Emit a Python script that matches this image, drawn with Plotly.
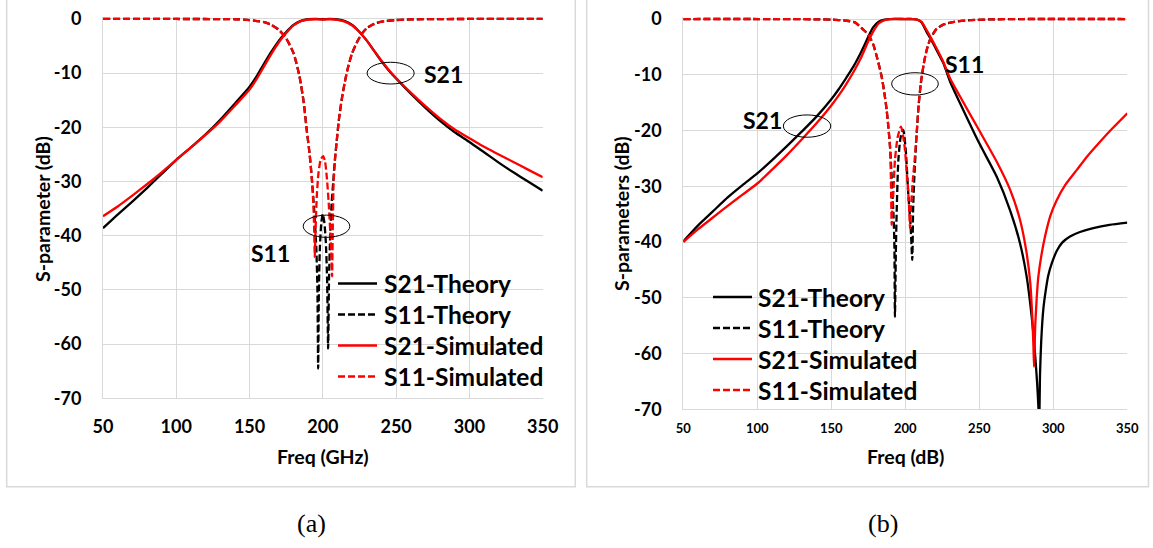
import plotly.graph_objects as go

# ---------------- Panel (a) data ----------------
freq_a_s21_th = [50, 60, 70, 80, 90, 100, 110, 120, 130, 140, 150, 155, 160, 165, 170, 175, 180, 185, 190, 195,
                 200, 205, 210, 215, 220, 225, 230, 235, 240, 245, 250, 260, 270, 280, 290, 300, 310, 320, 330, 340, 350]
s21_th_a = [-38.6, -36.1, -33.7, -31.2, -28.6, -26.0, -23.7, -21.3, -18.6, -15.6, -12.5, -10.5, -8.2, -6.0, -4.0,
            -2.4, -1.1, -0.35, -0.05, 0, -0.05, 0, -0.1, -0.4, -1.1, -2.4, -4.0, -5.9, -7.8, -9.5, -11.0, -13.8,
            -16.4, -18.8, -20.9, -22.7, -24.6, -26.5, -28.3, -30.0, -31.7]

freq_a_s21_sim = freq_a_s21_th
s21_sim_a = [-36.4, -34.6, -32.6, -30.5, -28.3, -26.0, -23.7, -21.4, -18.9, -16.0, -13.0, -11.0, -8.7, -6.4,
             -4.3, -2.6, -1.2, -0.4, -0.1, -0.05, -0.1, -0.05, -0.15, -0.5, -1.2, -2.4, -4.0, -5.9, -7.7, -9.4,
             -10.9, -13.6, -16.1, -18.4, -20.4, -22.0, -23.6, -25.0, -26.4, -27.8, -29.2]

freq_a_s11_th = [50, 100, 140, 150, 160, 165, 170, 175, 180, 184, 187, 189, 191, 192.5, 194, 195.5, 196.3, 196.8,
                 197.3, 198, 199, 200, 201, 202, 202.9, 203.6, 204.2, 205, 206, 207.1, 208.2, 209.4, 211, 212.8,
                 215, 217.3, 220, 224, 227, 230, 235, 240, 250, 260, 280, 300, 350]
s11_th_a = [0, 0, -0.05, -0.2, -0.6, -1.1, -2.0, -3.6, -6.3, -10.5, -15.5, -20.5, -25.0, -29.5, -35.0, -42.0,
            -50.0, -64.5, -50.0, -42.0, -37.5, -36.0, -37.5, -41.0, -48.0, -60.8, -48.0, -40.0, -34.0, -30.0,
            -26.0, -22.7, -18.5, -15.0, -11.6, -8.8, -6.3, -3.9, -2.6, -1.7, -0.9, -0.5, -0.2, -0.08, -0.02, 0, 0]

freq_a_s11_sim = [50, 100, 140, 150, 160, 165, 170, 175, 180, 184, 187, 189, 191, 192.5, 193.5, 194.1, 194.5, 195,
                  195.8, 197, 198.5, 200.2, 201.5, 202.8, 204, 205.2, 205.9, 206.3, 206.8, 207.3, 208.2, 209.4,
                  211, 212.8, 215, 217.3, 220, 224, 227, 230, 235, 240, 250, 260, 280, 300, 350]
s11_sim_a = [0, 0, -0.05, -0.2, -0.6, -1.1, -2.0, -3.6, -6.3, -10.5, -15.5, -20.5, -25.0, -29.5, -34.0, -39.0,
             -43.9, -39.0, -33.0, -28.5, -26.0, -25.3, -26.3, -29.5, -34.0, -40.0, -44.0, -47.5, -38.0, -30.5,
             -26.3, -22.7, -18.5, -15.0, -11.6, -8.8, -6.3, -3.9, -2.6, -1.7, -0.9, -0.5, -0.2, -0.08, -0.02, 0, 0]

# ---------------- Panel (b) data ----------------
freq_b_s21_th = [50, 60, 70, 80, 90, 100, 110, 120, 130, 140, 150, 155, 160, 165, 170, 175, 178, 182, 186, 190,
                 200, 205, 208, 211, 214.4, 217, 221.2, 225.7, 230.2, 237, 250, 261.8, 270.8, 277.5, 282, 285.4,
                 287.5, 289, 290, 290.4, 291, 291.8, 293.2, 295, 296.6, 299, 302.3, 306, 311.3, 318, 327, 338, 350]
s21_th_b = [-39.9, -37.0, -34.5, -32.0, -29.8, -27.7, -25.3, -22.8, -20.2, -17.5, -14.4, -12.6, -10.6, -8.5,
            -6.0, -3.2, -1.6, -0.5, -0.1, 0, 0, 0, -0.1, -0.6, -2.3, -3.5, -5.6, -7.9, -11.2, -15.1, -22.3,
            -28.3, -34.3, -40.2, -46.2, -53.4, -59.5, -65.0, -70.0, -75.0, -64.0, -58.0, -52.2, -48.5, -46.0,
            -43.8, -41.6, -40.1, -39.0, -38.2, -37.5, -36.9, -36.5]

freq_b_s21_sim = [50, 60, 70, 80, 90, 100, 110, 120, 130, 140, 150, 155, 160, 165, 170, 175, 178, 182, 186, 190,
                  200, 205, 208, 211, 214.4, 217, 221.2, 225.7, 230.2, 237, 250, 261.8, 270.8, 277.5, 282, 284.5,
                  285.8, 286.6, 287, 287.8, 288.8, 289.9, 292, 294.4, 298, 302.3, 308, 315.8, 323, 331.6, 340, 350]
s21_sim_b = [-40.0, -37.7, -35.6, -33.5, -31.5, -29.5, -27.0, -24.4, -21.6, -18.7, -15.5, -13.7, -11.7, -9.5,
             -7.0, -4.0, -2.4, -0.8, -0.2, 0, 0, 0, -0.1, -0.5, -2.0, -3.2, -5.3, -7.7, -10.6, -13.9, -20.0,
             -25.6, -30.6, -36.0, -42.0, -47.5, -53.5, -58.8, -62.4, -55.0, -50.0, -46.2, -42.3, -39.0, -35.3,
             -32.5, -29.8, -27.1, -24.6, -22.0, -19.6, -16.9]

freq_b_s11_th = [50, 100, 140, 150, 160, 166, 171.6, 175, 178.4, 181, 184, 186, 187.4, 188.6, 189.7, 190.8,
                 192.0, 192.6, 193.0, 193.6, 194.2, 195.3, 196.9, 198.6, 200.3, 202.0, 203.6, 204.7, 205.3, 206.1,
                 207.7, 209, 210.5, 212.5, 214.5, 217, 221, 225.7, 233, 244, 260, 280, 350]
s11_th_b = [0, 0, -0.05, -0.1, -0.3, -0.6, -1.9, -2.8, -4.6, -7.0, -10.3, -13.5, -16.3, -19.5, -23.0, -28.3,
            -35.0, -40.0, -53.4, -42.0, -34.3, -25.3, -21.1, -19.9, -23.5, -31.3, -37.2, -43.2, -34.0, -28.3,
            -20.5, -15.5, -11.5, -8.0, -5.5, -3.5, -1.8, -1.0, -0.5, -0.2, -0.05, 0, 0]

freq_b_s11_sim = [50, 100, 140, 150, 160, 166, 171.6, 175, 178.4, 181, 184, 186, 187.4, 188.6, 189.7, 190.3,
                  190.8, 191.4, 191.9, 193.0, 194.9, 197.1, 199.3, 201.6, 202.5, 203.2, 203.8, 204.3, 205.2, 206.1,
                  207.7, 209, 210.5, 212.5, 214.5, 217, 221, 225.7, 233, 244, 260, 280, 350]
s11_sim_b = [0, 0, -0.05, -0.1, -0.3, -0.6, -1.9, -2.8, -4.6, -7.0, -10.3, -13.5, -16.3, -19.5, -23.0, -29.0,
             -36.9, -33.0, -31.3, -25.3, -21.1, -19.3, -22.3, -29.5, -33.5, -37.5, -34.0, -31.9, -28.5, -25.9,
             -20.5, -15.5, -11.5, -8.0, -5.5, -3.5, -1.8, -1.0, -0.5, -0.2, -0.05, 0, 0]

# tick values and labels (plain hyphen minus)
x_ticks = [50, 100, 150, 200, 250, 300, 350]
x_ticktext = ["50", "100", "150", "200", "250", "300", "350"]
y_ticks = [0, -10, -20, -30, -40, -50, -60, -70]
y_ticktext = ["0", "-10", "-20", "-30", "-40", "-50", "-60", "-70"]

# ---------------- styling ----------------
BLACK = "#000000"
RED = "#ff0000"
GRID = "#d9d9d9"
FONT = "Lato"
LW = 2.3
DASH = "7px,3px"

series_a = [
    ("S21-Theory", freq_a_s21_th, s21_th_a, BLACK, "solid"),
    ("S11-Theory", freq_a_s11_th, s11_th_a, BLACK, DASH),
    ("S21-Simulated", freq_a_s21_sim, s21_sim_a, RED, "solid"),
    ("S11-Simulated", freq_a_s11_sim, s11_sim_a, RED, DASH),
]
series_b = [
    ("S21-Theory", freq_b_s21_th, s21_th_b, BLACK, "solid"),
    ("S11-Theory", freq_b_s11_th, s11_th_b, BLACK, DASH),
    ("S21-Simulated", freq_b_s21_sim, s21_sim_b, RED, "solid"),
    ("S11-Simulated", freq_b_s11_sim, s11_sim_b, RED, DASH),
]

W, H = 1153, 548


def px(x):
    return x / W


def py(y):
    return 1 - y / H


fig = go.Figure()

for series, xa, ya in [(series_a, "x", "y"), (series_b, "x2", "y2")]:
    for name, fx, fy, col, dash in series:
        fig.add_trace(go.Scatter(x=fx, y=fy, name=name, mode="lines", xaxis=xa, yaxis=ya, showlegend=False,
                                 line=dict(color=col, width=LW, dash=dash, shape="spline", smoothing=0.6)))

axis_common = dict(showgrid=True, gridcolor=GRID, gridwidth=1, zeroline=False, automargin=False,
                   showline=True, linecolor=GRID, linewidth=1, ticks="", tickmode="array")

tick_big = dict(family=FONT, size=18, color="#000", weight="bold")
tick_small = dict(family=FONT, size=13, color="#000", weight="bold")

fig.update_layout(
    width=W, height=H, autosize=False,
    margin=dict(l=0, r=0, t=0, b=0, pad=0, autoexpand=False),
    paper_bgcolor="white", plot_bgcolor="white",
    xaxis=dict(domain=[px(103), px(542.7)], range=[50, 350], tickvals=x_ticks, ticktext=x_ticktext,
               anchor="y", tickfont=tick_big, ticklabelstandoff=12, **axis_common),
    yaxis=dict(domain=[py(398.3), py(16.8)], range=[-70, 0.4], tickvals=y_ticks, ticktext=y_ticktext,
               anchor="x", tickfont=tick_big, ticklabelstandoff=17, **axis_common),
    xaxis2=dict(domain=[px(683.3), px(1127.3)], range=[50, 350], tickvals=x_ticks, ticktext=x_ticktext,
                anchor="y2", tickfont=tick_small, ticklabelstandoff=7, **axis_common),
    yaxis2=dict(domain=[py(409.3), py(16.8)], range=[-70, 0.4], tickvals=y_ticks, ticktext=y_ticktext,
                anchor="x2", tickfont=tick_big, ticklabelstandoff=17, **axis_common),
    showlegend=False,
)

# legend blocks: sample line + label for each series
legend_font = dict(family=FONT, size=24.5, color="#000", weight="bold")
legend_blocks = [
    (series_a, 338, 377, 381.5, 283.5),
    (series_b, 713, 752, 756, 297),
]
ROW = 31
for series, lx0, lx1, tx, ty0 in legend_blocks:
    for i, (name, _fx, _fy, col, dash) in enumerate(series):
        yy = py(ty0 + i * ROW)
        fig.add_shape(type="line", xref="paper", yref="paper", x0=px(lx0), x1=px(lx1), y0=yy, y1=yy,
                      line=dict(color=col, width=LW, dash=dash))
        fig.add_annotation(x=px(tx), y=yy, xref="paper", yref="paper", text=name, showarrow=False,
                           font=legend_font, xanchor="left", yanchor="middle")

# panel frames
for x0, x1 in [(6.7, 575.3), (586.7, 1148.5)]:
    fig.add_shape(type="rect", xref="paper", yref="paper", x0=px(x0), x1=px(x1), y0=py(486.7), y1=1.02,
                  line=dict(color=GRID, width=1.5), layer="below")

# ellipses marking the curve groups
ellipses = [
    ("x", "y", 230.2, 262.3, -12.0, -7.99),
    ("x", "y", 186.6, 218.4, -40.3, -36.2),
    ("x2", "y2", 117.6, 149.6, -21.2, -17.2),
    ("x2", "y2", 190.8, 222.3, -13.63, -9.63),
]
for xr, yr, x0, x1, y0, y1 in ellipses:
    fig.add_shape(type="circle", xref=xr, yref=yr, x0=x0, x1=x1, y0=y0, y1=y1,
                  line=dict(color=BLACK, width=1))

label_font = dict(family=FONT, size=23, color="#000", weight="bold")
curve_labels = [
    ("x", "y", 282.6, -10.1, "S21"),
    ("x", "y", 164.4, -43.2, "S11"),
    ("x2", "y2", 103.5, -18.1, "S21"),
    ("x2", "y2", 240.0, -8.1, "S11"),
]
for xr, yr, xv, yv, t in curve_labels:
    fig.add_annotation(x=xv, y=yv, xref=xr, yref=yr, text=t, showarrow=False, font=label_font,
                       xanchor="center", yanchor="middle")

# axis titles
title_font = dict(family=FONT, size=19.5, color="#000", weight="bold")
fig.add_annotation(x=px(42), y=py(209), xref="paper", yref="paper", text="S-parameter (dB)", textangle=-90,
                   showarrow=False, font=title_font, xanchor="center", yanchor="middle")
fig.add_annotation(x=px(322.5), y=py(456.7), xref="paper", yref="paper", text="Freq (GHz)",
                   showarrow=False, font=title_font, xanchor="center", yanchor="middle")
fig.add_annotation(x=px(621), y=py(214), xref="paper", yref="paper", text="S-parameters (dB)", textangle=-90,
                   showarrow=False, font=title_font, xanchor="center", yanchor="middle")
fig.add_annotation(x=px(905.3), y=py(456.7), xref="paper", yref="paper", text="Freq (dB)",
                   showarrow=False, font=title_font, xanchor="center", yanchor="middle")

# panel captions
cap_font = dict(family="Liberation Serif", size=26, color="#000")
fig.add_annotation(x=px(311), y=py(523), xref="paper", yref="paper", text="(a)", showarrow=False,
                   font=cap_font, xanchor="center", yanchor="middle")
fig.add_annotation(x=px(883), y=py(523), xref="paper", yref="paper", text="(b)", showarrow=False,
                   font=cap_font, xanchor="center", yanchor="middle")

fig.write_html("out.html")
